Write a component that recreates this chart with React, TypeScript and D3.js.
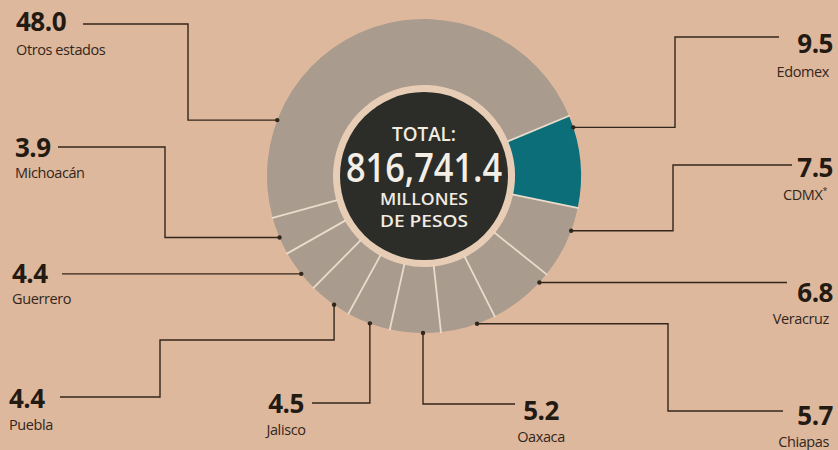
import React from "react";
import * as d3 from "d3";

// ---- data ----
const states = ["Edomex", "CDMX", "Veracruz", "Chiapas", "Oaxaca", "Jalisco", "Puebla", "Guerrero", "Michoacán", "Otros estados"];
const shares = [9.5, 7.5, 6.8, 5.7, 5.2, 4.5, 4.4, 4.4, 3.9, 48.0];
const shareLabels = ["9.5", "7.5", "6.8", "5.7", "5.2", "4.5", "4.4", "4.4", "3.9", "48.0"];
const highlighted = ["Edomex"];
const totalTitle = "TOTAL:";
const totalValue = "816,741.4";
const totalUnit = ["MILLONES", "DE PESOS"];

// ---- layout (positions / styles only) ----
const W = 838, H = 450;
const cx = 424, cy = 176, R = 157, R0 = 91, RC = 84;
const startDeg = 67.5;
const BG = "#ddb89d";
const SLICE = "#a99b8d";
const TEAL = "#0b6e78";
const INK = "#33261b";

type Move = ["h" | "v", number];
interface Lay { t: number; moves: Move[]; anchor: "start" | "middle" | "end"; tx: number; vy: number; ny: number; nx?: number; }
const layout: Lay[] = [
  { t: 0.13, moves: [["h", 675], ["v", 37], ["h", 779]], anchor: "end", tx: 833, vy: 53, ny: 77, nx: 829 },
  { t: 0.32, moves: [["h", 673], ["v", 165], ["h", 792]], anchor: "end", tx: 833, vy: 177, ny: 200, nx: 827 },
  { t: 0.16, moves: [["h", 787]], anchor: "end", tx: 833, vy: 302, ny: 324, nx: 829 },
  { t: 0.34, moves: [["h", 668], ["v", 411], ["h", 783]], anchor: "end", tx: 833, vy: 425, ny: 447, nx: 829 },
  { t: 0.35, moves: [["v", 404], ["h", 515]], anchor: "middle", tx: 541, vy: 420, ny: 442 },
  { t: 0.47, moves: [["v", 403], ["h", 312]], anchor: "middle", tx: 286, vy: 413, ny: 435 },
  { t: 0.39, moves: [["v", 340], ["h", 160], ["v", 397], ["h", 60]], anchor: "start", tx: 9, vy: 408, ny: 430 },
  { t: 0.43, moves: [["h", 62]], anchor: "start", tx: 12, vy: 283, ny: 304 },
  { t: 0.46, moves: [["h", 165], ["v", 147], ["h", 58]], anchor: "start", tx: 15, vy: 157, ny: 178 },
  { t: 0.21, moves: [["h", 188], ["v", 24], ["h", 83]], anchor: "start", tx: 16, vy: 31, ny: 55 },
];

const rad = (d: number) => (d * Math.PI) / 180;

export default function App() {
  const pie = d3
    .pie<number>()
    .sort(null)
    .value((d) => d)
    .startAngle(rad(startDeg))
    .endAngle(rad(startDeg + 360));
  const arcs = pie(shares);
  const arc = d3.arc<d3.PieArcDatum<number>>().innerRadius(R0).outerRadius(R);

  const font = "'Open Sans', 'Noto Sans', sans-serif";

  return (
    <svg width={W} height={H} style={{ position: "absolute", left: 0, top: 0, background: BG }}>
      <rect x={0} y={0} width={W} height={H} fill={BG} />
      <g transform={`translate(${cx},${cy})`}>
        <circle r={R0 + 1} fill="#e8cdb6" />
        {arcs.map((a, i) => (
          <path
            key={i}
            d={arc(a) || ""}
            fill={highlighted.includes(states[i]) ? TEAL : SLICE}
          />
        ))}
        {arcs.map((a, i) => {
          const s = Math.sin(a.startAngle), c = -Math.cos(a.startAngle);
          return (
            <line key={"sep" + i} x1={s * (R0 - 1)} y1={c * (R0 - 1)} x2={s * (R + 1)} y2={c * (R + 1)}
              stroke="#eadccc" strokeWidth={1.8} />
          );
        })}
        <circle r={RC} fill="#2c2d28" />
        <text y={-35} textAnchor="middle" fill="#f1ebe0" fontFamily={font} fontSize={19} fontWeight={600}
          textLength={64} lengthAdjust="spacingAndGlyphs">
          {totalTitle}
        </text>
        <text y={6} textAnchor="middle" fill="#f4efe6" fontFamily={font} fontSize={39} fontWeight={600}
          textLength={156} lengthAdjust="spacingAndGlyphs">
          {totalValue}
        </text>
        <text y={29} textAnchor="middle" fill="#f1ebe0" fontFamily={font} fontSize={15.5} fontWeight={600}
          textLength={88} lengthAdjust="spacingAndGlyphs">
          {totalUnit[0]}
        </text>
        <text y={51} textAnchor="middle" fill="#f1ebe0" fontFamily={font} fontSize={15.5} fontWeight={600}
          textLength={88} lengthAdjust="spacingAndGlyphs">
          {totalUnit[1]}
        </text>
      </g>

      {arcs.map((a, i) => {
        const L = layout[i];
        const ang = a.startAngle + L.t * (a.endAngle - a.startAngle);
        let x = cx + Math.sin(ang) * R;
        let y = cy - Math.cos(ang) * R;
        const pts: [number, number][] = [[x, y]];
        L.moves.forEach(([k, v]) => {
          if (k === "h") x = v; else y = v;
          pts.push([x, y]);
        });
        const line = d3.line()(pts) || "";
        const nameX = L.nx ?? L.tx;
        return (
          <g key={i}>
            <path d={line} fill="none" stroke={INK} strokeWidth={1.4} />
            <circle cx={pts[0][0]} cy={pts[0][1]} r={2.2} fill={INK} />
            <text x={L.tx} y={L.vy} textAnchor={L.anchor} fontFamily={font} fontSize={26} fontWeight={700} fill="#231a12" letterSpacing={-0.5}>
              {shareLabels[i]}
            </text>
            <text x={nameX} y={L.ny} textAnchor={L.anchor} fontFamily={font} fontSize={14.5} fill="#33261b" letterSpacing={-0.4}>
              {states[i]}
              {states[i] === "CDMX" ? <tspan fontSize={9} dy={-6}>*</tspan> : null}
            </text>
          </g>
        );
      })}
    </svg>
  );
}
